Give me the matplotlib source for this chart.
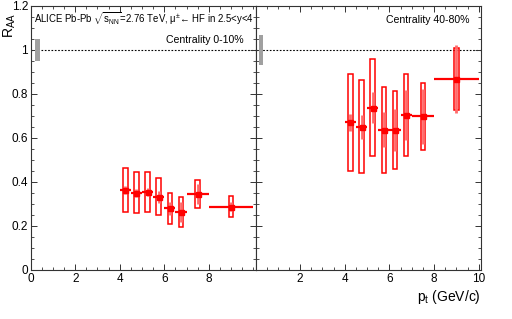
import matplotlib
matplotlib.use("Agg")
import matplotlib.pyplot as plt
from matplotlib.patches import Rectangle
from matplotlib.ticker import MultipleLocator, FixedLocator, FixedFormatter
import numpy as np

plt.rcParams['font.family'] = ['Liberation Sans', 'DejaVu Sans']
plt.rcParams['mathtext.fontset'] = 'custom'
plt.rcParams['mathtext.rm'] = 'Liberation Sans'
plt.rcParams['mathtext.it'] = 'Liberation Sans'
plt.rcParams['mathtext.bf'] = 'Liberation Sans'

# ---- data ----
pt = [4.25, 4.75, 5.25, 5.75, 6.25, 6.75, 7.5, 9.0]
pt_halfwidth = [0.25, 0.25, 0.25, 0.25, 0.25, 0.25, 0.5, 1.0]

raa_central = [0.364, 0.351, 0.355, 0.333, 0.280, 0.262, 0.345, 0.288]
stat_central = [0.017, 0.019, 0.018, 0.028, 0.030, 0.045, 0.045, 0.020]
syst_central = [0.099, 0.093, 0.090, 0.085, 0.072, 0.068, 0.065, 0.047]

raa_periph = [0.671, 0.651, 0.738, 0.638, 0.635, 0.705, 0.699, 0.867]
stat_periph = [0.040, 0.055, 0.070, 0.080, 0.095, 0.115, 0.125, 0.155]
syst_periph = [0.222, 0.212, 0.219, 0.195, 0.177, 0.185, 0.152, 0.140]

norm_central = 0.05
norm_periph = 0.07

panel_labels = ["Centrality 0-10%", "Centrality 40-80%"]
y_ticks = [0, 0.2, 0.4, 0.6, 0.8, 1.0, 1.2]
y_ticklabels = ["0", "0.2", "0.4", "0.6", "0.8", "1", "1.2"]
x_ticks_left = [0, 2, 4, 6, 8]
x_ticks_right = [2, 4, 6, 8, 10]

W, H = 512, 319
fig = plt.figure(figsize=(W / 100, H / 100), dpi=100)

x0, xm, x1 = 30.7, 255.5, 481.0
ybot, ytop = 270.0, 6.0
axL = fig.add_axes([x0 / W, 1 - ybot / H, (xm - x0) / W, (ybot - ytop) / H])
axR = fig.add_axes([xm / W, 1 - ybot / H, (x1 - xm) / W, (ybot - ytop) / H])

red = '#ff0000'
box_hw = 0.1

def draw_panel(ax, raa, stat, syst, norm, norm_x):
    ax.set_xlim(0, 10.1)
    ax.set_ylim(0, 1.2)
    ax.axhline(1.0, color='black', lw=0.8, ls=(0, (1.5, 1.5)), zorder=1)
    ax.add_patch(Rectangle((norm_x, 1 - norm), 0.2, 2 * norm,
                           facecolor='#a0a0a0', edgecolor='none', zorder=2))
    for x, y, s in zip(pt, raa, syst):
        ax.add_patch(Rectangle((x - box_hw, y - s), 2 * box_hw, 2 * s,
                               fill=False, edgecolor=red, lw=1.1, zorder=3))
    ax.errorbar(pt, raa, yerr=stat, fmt='none', ecolor='#ff6a6a',
                elinewidth=2.0, capsize=0, zorder=4)
    ax.errorbar(pt, raa, xerr=pt_halfwidth, fmt='s', color=red, ms=3.6,
                mec=red, ecolor=red, elinewidth=1.6, capsize=0, zorder=5)
    for spine in ax.spines.values():
        spine.set_color('#333333')
        spine.set_linewidth(0.8)
    ax.xaxis.set_minor_locator(MultipleLocator(0.5))
    ax.yaxis.set_minor_locator(MultipleLocator(0.05))
    ax.tick_params(which='both', direction='in', top=True, right=True,
                   colors='#333333', labelcolor='black', labelsize=8.5, pad=2)
    ax.tick_params(which='major', length=4.5, width=0.7)
    ax.tick_params(which='minor', length=2.2, width=0.6)

draw_panel(axL, raa_central, stat_central, syst_central, norm_central, 0.2)
draw_panel(axR, raa_periph, stat_periph, syst_periph, norm_periph, 0.15)

axL.yaxis.set_major_locator(FixedLocator(y_ticks))
axL.yaxis.set_major_formatter(FixedFormatter(y_ticklabels))
axL.xaxis.set_major_locator(FixedLocator(x_ticks_left))
axL.set_xticklabels([str(v) for v in x_ticks_left])
axR.yaxis.set_major_locator(FixedLocator(y_ticks))
axR.set_yticklabels([])
axR.xaxis.set_major_locator(FixedLocator(x_ticks_right))
axR.set_xticklabels([str(v) for v in x_ticks_right])

# texts
fig.text(34 / W, 1 - 19 / H,
         "ALICE Pb-Pb $\\sqrt{s_{\\rm NN}}$=2.76 TeV, \u03bc$^{\\pm}$\u2190 HF in 2.5<y<4",
         fontsize=6.9, ha='left', va='center')
fig.text(244 / W, 1 - 40 / H, panel_labels[0], fontsize=7.6, ha='right', va='center')
fig.text(470 / W, 1 - 20 / H, panel_labels[1], fontsize=7.6, ha='right', va='center')
fig.text(2 / W, 1 - 13 / H, r"R$_{\rm AA}$", fontsize=10, rotation=90,
         ha='left', va='top')
fig.text(481 / W, 1 - 297 / H, r"p$_{\rm t}$ (GeV/c)", fontsize=10,
         ha='right', va='center')

fig.savefig("out.png", dpi=100)
